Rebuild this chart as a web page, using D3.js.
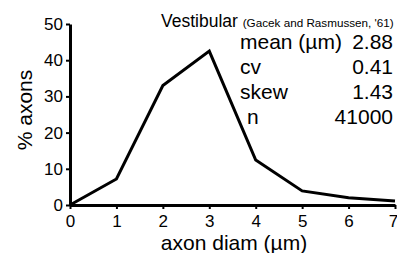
<!DOCTYPE html>
<html lang="en">
<head>
    <meta charset="UTF-8">
    <title>Axon diameter distribution</title>
    <script src="https://d3js.org/d3.v7.min.js"></script>
    <style>
        body { margin: 0; background: #fff; }
        svg text { font-family: "Liberation Sans", Arial, sans-serif; fill: #000; }
        .tick text { font-size: 17px; }
    </style>
</head>
<body>
<svg id="svg" width="397" height="253"></svg>
<script>
    // data
    const diameters = [0, 1, 2, 3, 4, 5, 6, 7];
    const percents = [0, 7.2, 33, 42.5, 12.4, 3.9, 2, 1.1];
    const xTicks = [0, 1, 2, 3, 4, 5, 6, 7];
    const yTicks = [0, 10, 20, 30, 40, 50];
    const statNames = ["mean (\u00b5m)", "cv", "skew", "n"];
    const statValues = ["2.88", "0.41", "1.43", "41000"];

    const svg = d3.select("#svg");
    const margin = { top: 24, right: 2, bottom: 48, left: 70 };
    const width = 397, height = 253;

    const x = d3.scaleLinear().domain([0, 7]).range([margin.left, width - margin.right]);
    const y = d3.scaleLinear().domain([0, 50]).range([height - margin.bottom, margin.top]);

    // axes
    const xAxis = svg.append("g")
        .attr("transform", `translate(0,${y(0)})`)
        .call(d3.axisBottom(x).tickValues(xTicks).tickFormat(d3.format("d"))
            .tickSize(4).tickPadding(6).tickSizeOuter(0));
    const yAxis = svg.append("g")
        .attr("transform", `translate(${x(0)},0)`)
        .call(d3.axisLeft(y).tickValues(yTicks).tickFormat(d3.format("d"))
            .tickSize(4).tickPadding(3).tickSizeOuter(0));

    [xAxis, yAxis].forEach(a => {
        a.select(".domain").attr("stroke", "#000").attr("stroke-width", 3);
        a.selectAll(".tick line").attr("stroke", "#000").attr("stroke-width", 2);
    });
    xAxis.selectAll(".tick:last-of-type text").attr("dx", "-2");

    // line
    svg.append("path")
        .datum(diameters.map((d, i) => [d, percents[i]]))
        .attr("fill", "none")
        .attr("stroke", "#000")
        .attr("stroke-width", 3)
        .attr("stroke-linejoin", "miter")
        .attr("d", d3.line().x(d => x(d[0])).y(d => y(d[1])));

    // axis titles
    svg.append("text")
        .attr("x", 234).attr("y", 250)
        .attr("text-anchor", "middle")
        .style("font-size", "21px")
        .text("axon diam (\u00b5m)");
    svg.append("text")
        .attr("transform", "translate(32,110) rotate(-90)")
        .attr("text-anchor", "middle")
        .style("font-size", "21px")
        .text("% axons");

    // legend / stats
    const title = svg.append("text").attr("x", 161).attr("y", 27);
    title.append("tspan").style("font-size", "17.5px").text("Vestibular ");
    title.append("tspan").style("font-size", "11.7px").text("(Gacek and Rasmussen, '61)");

    statNames.forEach((s, i) => {
        svg.append("text")
            .attr("x", i === 3 ? 247 : 240).attr("y", 49 + i * 25)
            .style("font-size", "21px")
            .text(s);
        svg.append("text")
            .attr("x", 393).attr("y", 49 + i * 25)
            .attr("text-anchor", "end")
            .style("font-size", "21px")
            .text(statValues[i]);
    });
</script>
</body>
</html>
